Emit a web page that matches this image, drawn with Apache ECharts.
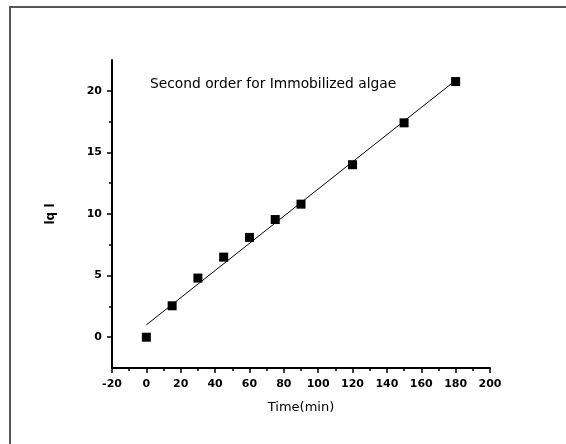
<!DOCTYPE html>
<html>
<head>
<meta charset="utf-8">
<script src="https://cdn.jsdelivr.net/npm/echarts@6/dist/echarts.min.js"></script>
<style>
  html, body { margin: 0; padding: 0; background: #fff; }
  #chart { width: 566px; height: 444px; }
</style>
</head>
<body>
<div id="chart"></div>
<script>
// Measured uptake over time
const timeMin = [0, 15, 30, 45, 60, 75, 90, 120, 150, 180];
const qValues = [0, 2.55, 4.8, 6.5, 8.1, 9.55, 10.8, 14.0, 17.4, 20.75];

// Linear fit endpoints (time, value)
const fitTime = [0, 180];
const fitValue = [1.0, 20.85];

// Axis tick values
const yMajorTicks = [0, 5, 10, 15, 20];
const yMinorTicks = [2.5, 7.5, 12.5, 17.5];

const titleText = 'Second order for Immobilized algae';

const points = timeMin.map((t, i) => [t, qValues[i]]);
const fitLine = fitTime.map((t, i) => [t, fitValue[i]]);

const labelFont = { fontFamily: 'DejaVu Sans', fontWeight: 'bold', fontSize: 11, color: '#000' };

const chart = echarts.init(document.getElementById('chart'), null, { renderer: 'canvas' });
chart.setOption({
  animation: false,
  backgroundColor: '#fff',
  graphic: [{
    type: 'rect',
    shape: { x: 10, y: 7, width: 700, height: 600 },
    style: { fill: 'none', stroke: '#555', lineWidth: 2 },
    silent: true
  }],
  title: {
    text: titleText,
    left: 145,
    top: 72,
    textStyle: { fontFamily: 'DejaVu Sans', fontWeight: 'normal', fontSize: 13.8, color: '#000' }
  },
  grid: { left: 112, right: 76, top: 60, bottom: 76 },
  xAxis: {
    type: 'value',
    min: -20,
    max: 200,
    interval: 20,
    name: 'Time(min)',
    nameLocation: 'middle',
    nameGap: 33,
    nameTextStyle: { fontFamily: 'DejaVu Sans', fontSize: 13, color: '#000' },
    axisLine: { show: true, onZero: false, lineStyle: { color: '#000', width: 2 } },
    axisTick: { show: true, inside: false, length: 5, lineStyle: { color: '#000', width: 1.5 } },
    minorTick: { show: true, splitNumber: 2, length: 3, lineStyle: { color: '#000', width: 1.5 } },
    axisLabel: Object.assign({ margin: 11 }, labelFont),
    splitLine: { show: false }
  },
  yAxis: [{
    type: 'value',
    min: -2.5,
    max: 22.5,
    name: 'lq l',
    nameLocation: 'middle',
    nameGap: 55,
    nameTextStyle: { fontFamily: 'DejaVu Sans', fontWeight: 'bold', fontSize: 12, color: '#000' },
    axisLine: { show: true, onZero: false, lineStyle: { color: '#000', width: 2 } },
    axisTick: { show: true, inside: false, length: 5, customValues: yMajorTicks, lineStyle: { color: '#000', width: 1.5 } },
    axisLabel: Object.assign({ margin: 10, customValues: yMajorTicks }, labelFont),
    splitLine: { show: false }
  }, {
    type: 'value',
    position: 'left',
    min: -2.5,
    max: 22.5,
    axisLine: { show: false, onZero: false },
    axisTick: { show: true, inside: false, length: 3, customValues: yMinorTicks, lineStyle: { color: '#000', width: 1.5 } },
    axisLabel: { show: false },
    splitLine: { show: false }
  }],
  series: [{
    type: 'line',
    data: fitLine,
    yAxisIndex: 0,
    symbol: 'none',
    lineStyle: { color: '#000', width: 1 },
    silent: true,
    z: 2
  }, {
    type: 'scatter',
    data: points,
    yAxisIndex: 0,
    symbol: 'rect',
    symbolSize: 9,
    itemStyle: { color: '#000', opacity: 1 },
    z: 3
  }]
});
</script>
</body>
</html>
